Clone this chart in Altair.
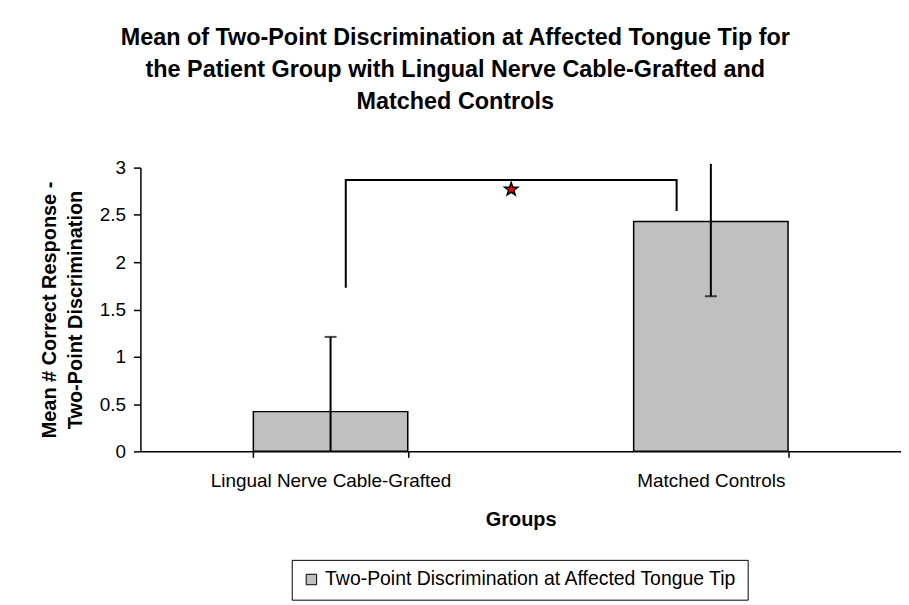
import altair as alt
import pandas as pd

# ---- data ----
groups = ["Lingual Nerve Cable-Grafted", "Matched Controls"]
means = [0.42, 2.43]
err_low = [0.0, 1.64]
err_high = [1.21, 3.04]
cap_values = [1.21, 1.64]
series_name = "Two-Point Discrimination at Affected Tongue Tip"

bracket_x = [0.54, 0.54, 1.41, 1.41]
bracket_y = [1.73, 2.87, 2.87, 2.54]
star_x = [0.975]
star_y = [2.77]
y_ticks = [0, 0.5, 1, 1.5, 2, 2.5, 3]

FONT = "Liberation Sans"

bars_df = pd.DataFrame({"group": groups, "mean": means, "series": [series_name] * 2,
                        "lo": err_low, "hi": err_high, "cap": cap_values})
bracket_df = pd.DataFrame({"bx": bracket_x, "by": bracket_y, "order": list(range(len(bracket_x)))})
star_df = pd.DataFrame({"sx": star_x, "sy": star_y})

xscale = alt.Scale(domain=groups, paddingInner=0.594, paddingOuter=0.297)
yscale = alt.Scale(domain=[0, 3])

x_enc = alt.X("group:N", sort=groups, scale=xscale,
              axis=alt.Axis(title="Groups", labelAngle=0, tickBand="extent", tickSize=6,
                            labelPadding=14, labelFontSize=19, titleFontSize=20,
                            titleFontWeight="bold", titlePadding=19, labelFont=FONT,
                            titleFont=FONT, labelLimit=600))

bars = alt.Chart(bars_df).mark_bar(stroke="black", strokeWidth=1.5).encode(
    x=x_enc,
    y=alt.Y("mean:Q", scale=yscale,
            axis=alt.Axis(values=y_ticks, format="~g",
                          title=["Mean # Correct Response -", "Two-Point Discrimination"],
                          grid=False, tickSize=7, labelPadding=8, labelFontSize=19,
                          titleFontSize=20, titleFontWeight="bold", titlePadding=14,
                          titleLineHeight=26, labelFont=FONT, titleFont=FONT)),
    color=alt.Color("series:N", scale=alt.Scale(range=["#C0C0C0"]),
                    legend=alt.Legend(orient="none", legendX=152, legendY=394, title=None,
                                      symbolType="square", symbolSize=110,
                                      symbolStrokeColor="black", symbolStrokeWidth=1,
                                      labelFontSize=19.5, labelFont=FONT, strokeColor="black",
                                      fillColor="white", padding=10, labelLimit=700)),
)

rules = alt.Chart(bars_df).mark_rule(color="black", strokeWidth=2).encode(
    x=alt.X("group:N", sort=groups, scale=xscale),
    y=alt.Y("lo:Q", scale=yscale),
    y2="hi:Q",
)

caps = alt.Chart(bars_df).mark_tick(color="black", thickness=2, size=12).encode(
    x=alt.X("group:N", sort=groups, scale=xscale),
    y=alt.Y("cap:Q", scale=yscale),
)

main = alt.layer(bars, rules, caps)

bracket = alt.Chart(bracket_df).mark_line(color="black", strokeWidth=2).encode(
    x=alt.X("bx:Q", scale=alt.Scale(domain=[0, 2]), axis=None),
    y=alt.Y("by:Q", scale=yscale),
    order="order:Q",
)

star_path = ("M0,-1L0.235,-0.324L0.951,-0.309L0.38,0.124L0.588,0.809L0,0.4"
             "L-0.588,0.809L-0.38,0.124L-0.951,-0.309L-0.235,-0.324Z")
star = alt.Chart(star_df).mark_point(shape=star_path, filled=True, fill="red",
                                     stroke="black", strokeWidth=1.5, size=190, opacity=1).encode(
    x=alt.X("sx:Q", scale=alt.Scale(domain=[0, 2]), axis=None),
    y=alt.Y("sy:Q", scale=yscale),
)

annot = alt.layer(bracket, star)

chart = alt.layer(main, annot).resolve_scale(x="independent").properties(
    width=764, height=285,
    padding={"left": 31, "top": 16, "right": 0, "bottom": 0},
    title=alt.TitleParams(
        text=["Mean of Two-Point Discrimination at Affected Tongue Tip for",
              "the Patient Group with Lingual Nerve Cable-Grafted and",
              "Matched Controls"],
        font=FONT, fontSize=23.5, fontWeight="bold", lineHeight=32.5, anchor="middle",
        frame="bounds", offset=45, dx=-15, color="black"),
).configure_view(stroke=None).configure_axis(
    domainColor="black", domainWidth=1.5, tickColor="black", tickWidth=1.5,
    labelColor="black", titleColor="black",
).configure_legend(labelColor="black")

chart.save("out.html", embed_options={"renderer": "svg", "actions": False})
